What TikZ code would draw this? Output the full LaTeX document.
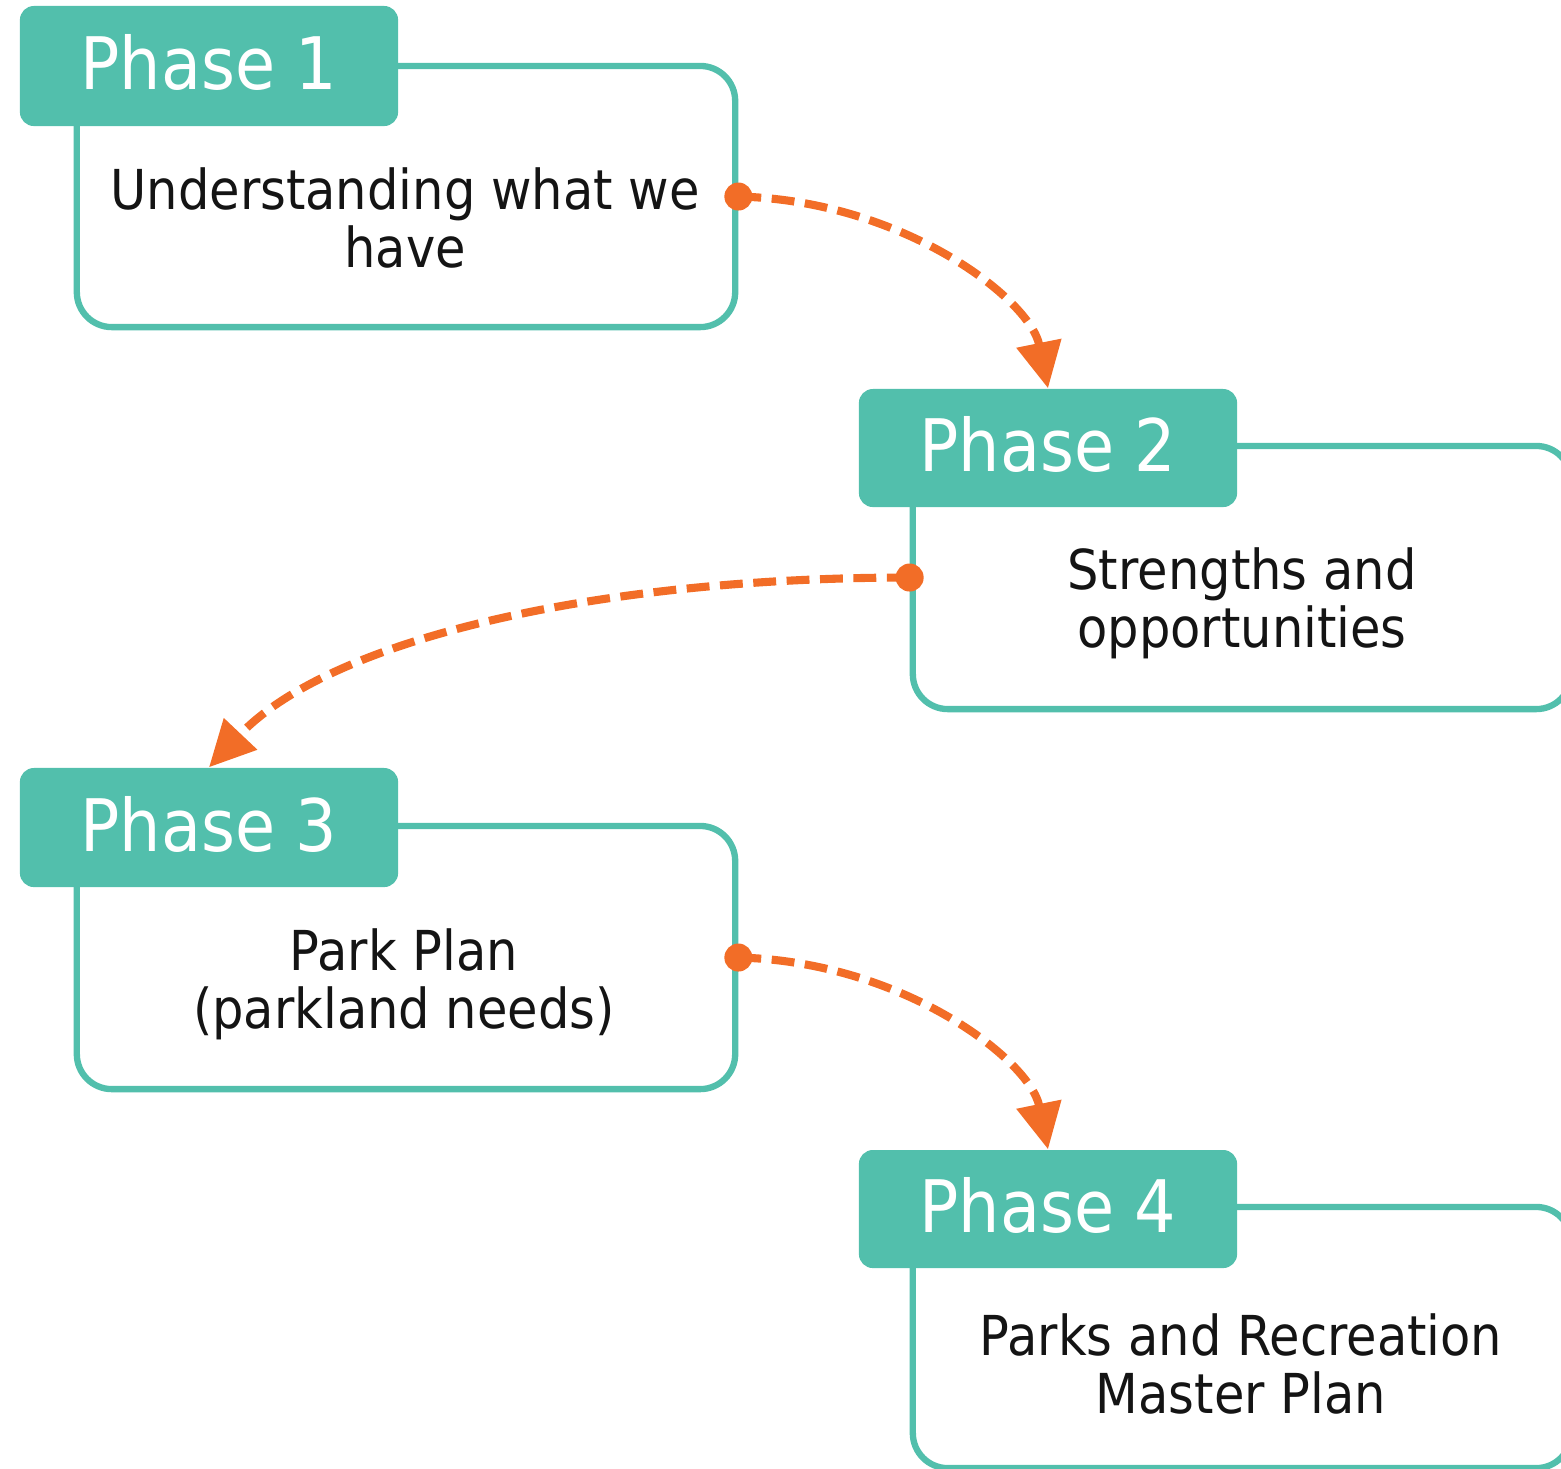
\documentclass[tikz,border=0pt]{standalone}
\usepackage{fontspec}
\usetikzlibrary{arrows.meta}
\newfontfamily\phasefont{DejaVu Sans}[FakeStretch=0.9]
\definecolor{teal}{RGB}{82,191,172}
\definecolor{orng}{RGB}{242,109,39}
\definecolor{ink}{RGB}{20,20,20}
\tikzset{
  header/.style={fill=teal, rounded corners=0.14cm, minimum width=3.78cm, minimum height=1.2cm,
    inner sep=0pt, text=white, font=\phasefont\fontsize{20.6pt}{22pt}\selectfont, text depth=0.22em},
  bodybox/.style={draw=teal, line width=1.8pt, rounded corners=0.35cm, minimum width=6.58cm, inner sep=0pt},
  bodytext/.style={align=center, text=ink, font=\phasefont\fontsize{15.65pt}{16.5pt}\selectfont, inner sep=0pt},
  link/.style={draw=orng, line width=2.3pt, dash pattern=on 6.5pt off 3pt, -{Triangle[length=0.46cm,width=0.44cm]}},
  dot/.style={fill=orng}
}
\begin{document}
\begin{tikzpicture}[x=0.01cm,y=-0.01cm]
\useasboundingbox (0,0) rectangle (1561,1468);
% bodies
\node[bodybox, minimum height=2.61cm] (b1) at (406,196.5) {};
\node[bodybox, minimum height=2.63cm] (b2) at (1242,577.5) {};
\node[bodybox, minimum height=2.63cm] (b3) at (406,957.5) {};
\node[bodybox, minimum height=2.61cm] (b4) at (1242,1337.5) {};
% headers
\node[header] (h1) at (209,66) {Phase 1};
\node[header, minimum height=1.18cm] (h2) at (1048,448) {Phase 2};
\node[header, minimum height=1.19cm] (h3) at (209,827.5) {Phase 3};
\node[header, minimum height=1.18cm] (h4) at (1048,1209) {Phase 4};
% texts
\node[bodytext] (t1) at (405,218) {Understanding what we\\have};
\node[bodytext] (t2) at (1242,603) {Strengths and\\opportunities};
\node[bodytext] (t3) at (404,984) {Park Plan\\(parkland needs)};
\node[bodytext] (t4) at (1241,1364) {Parks and Recreation\\Master Plan};
% connectors
\draw[link] (b1.east) .. controls +(165,4) and +(-18,-89) .. (h2.north);
\draw[link] (b2.west) .. controls +(-313,0) and +(121,-128) .. (h3.north);
\draw[link] (b3.east) .. controls +(165,4) and +(-18,-89) .. (h4.north);
\fill[dot] (b1.east) circle (0.14cm);
\fill[dot] (b2.west) circle (0.14cm);
\fill[dot] (b3.east) circle (0.14cm);
\end{tikzpicture}
\end{document}
